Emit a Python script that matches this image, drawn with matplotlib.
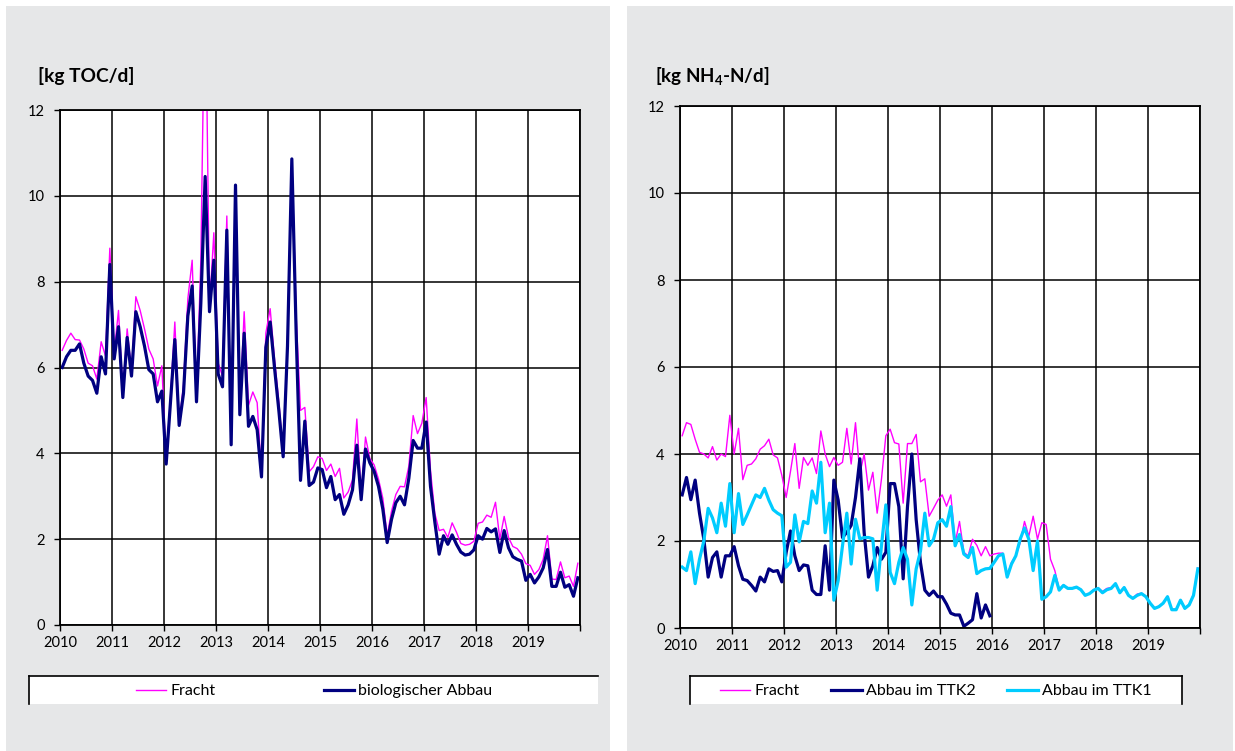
import numpy as np
import matplotlib
matplotlib.use("Agg")
import matplotlib.pyplot as plt
from matplotlib.patches import Rectangle
from matplotlib.lines import Line2D

plt.rcParams['font.family'] = ['Lato', 'DejaVu Sans']
plt.rcParams['mathtext.default'] = 'regular'

# monthly values 2010-01 .. 2019-12
years = list(range(2010, 2020))
year_labels = [str(y) for y in years]

toc_fracht = [6.40, 6.63, 6.80, 6.65, 6.64, 6.43, 6.10, 6.04, 5.73, 6.60, 6.27, 8.78,
              6.35, 7.33, 5.40, 6.90, 5.90, 7.65, 7.33, 6.90, 6.43, 6.20, 5.57, 6.04,
              3.80, 5.30, 7.06, 4.70, 5.60, 7.60, 8.50, 5.30, 8.50, 15.50, 7.40, 9.14,
              6.10, 5.80, 9.53, 4.30, 10.25, 5.00, 7.30, 5.12, 5.43, 5.18, 3.50, 6.80,
              7.37, 6.20, 5.20, 4.00, 6.60, 10.86, 7.20, 5.00, 5.07, 3.57, 3.69, 3.92,
              3.88, 3.60, 3.75, 3.46, 3.65, 2.96, 3.10, 3.38, 4.80, 3.05, 4.38, 3.88,
              3.73, 3.40, 2.95, 2.08, 2.65, 3.04, 3.23, 3.22, 3.70, 4.88, 4.46, 4.70,
              5.30, 3.60, 2.60, 2.20, 2.23, 2.04, 2.38, 2.16, 1.90, 1.86, 1.88, 1.95,
              2.37, 2.40, 2.56, 2.51, 2.86, 2.00, 2.53, 2.04, 1.83, 1.78, 1.65, 1.43,
              1.39, 1.18, 1.29, 1.53, 2.08, 1.07, 1.06, 1.47, 1.10, 1.14, 0.90, 1.44]

toc_abbau = [6.00, 6.25, 6.40, 6.40, 6.55, 6.10, 5.80, 5.70, 5.40, 6.25, 5.85, 8.40,
             6.20, 6.95, 5.30, 6.70, 5.80, 7.30, 6.95, 6.50, 5.95, 5.85, 5.20, 5.45,
             3.75, 5.20, 6.65, 4.65, 5.40, 7.20, 7.90, 5.20, 7.50, 10.45, 7.30, 8.50,
             5.85, 5.55, 9.20, 4.20, 10.25, 4.90, 6.80, 4.63, 4.86, 4.55, 3.45, 6.47,
             7.06, 6.00, 5.00, 3.92, 6.50, 10.86, 6.80, 3.37, 4.75, 3.25, 3.33, 3.66,
             3.62, 3.20, 3.46, 2.92, 3.04, 2.58, 2.80, 3.15, 4.19, 2.92, 4.10, 3.78,
             3.58, 3.23, 2.70, 1.92, 2.46, 2.85, 3.00, 2.80, 3.42, 4.30, 4.12, 4.12,
             4.73, 3.23, 2.40, 1.65, 2.08, 1.88, 2.10, 1.88, 1.70, 1.63, 1.65, 1.75,
             2.08, 2.00, 2.25, 2.17, 2.24, 1.69, 2.20, 1.80, 1.59, 1.53, 1.49, 1.04,
             1.18, 0.98, 1.12, 1.33, 1.76, 0.90, 0.90, 1.23, 0.88, 0.94, 0.67, 1.10]

nh4_fracht = [4.42, 4.72, 4.68, 4.34, 4.04, 4.00, 3.91, 4.17, 3.86, 4.00, 3.94, 4.89,
              4.00, 4.59, 3.41, 3.74, 3.77, 3.89, 4.11, 4.19, 4.34, 3.98, 3.91, 3.51,
              3.00, 3.60, 4.24, 3.21, 3.92, 3.74, 3.91, 3.55, 4.53, 4.00, 3.71, 3.92,
              3.74, 3.81, 4.59, 3.77, 4.72, 3.55, 4.00, 3.17, 3.58, 2.64, 3.43, 4.42,
              4.57, 4.26, 4.23, 2.87, 4.24, 4.24, 4.45, 3.36, 3.43, 2.57, 2.75, 2.94,
              3.06, 2.80, 3.06, 1.96, 2.45, 1.74, 1.66, 2.04, 1.90, 1.66, 1.87, 1.66,
              1.70, 1.72, 1.72, 1.21, 1.51, 1.66, 1.96, 2.45, 2.11, 2.57, 2.04, 2.42,
              2.38, 1.58, 1.32, 0.90, 0.99, 0.92, 0.92, 0.95, 0.89, 0.76, 0.80, 0.88,
              0.92, 0.84, 0.91, 0.93, 1.03, 0.82, 0.94, 0.76, 0.69, 0.78, 0.80, 0.73,
              0.58, 0.46, 0.50, 0.58, 0.73, 0.43, 0.43, 0.65, 0.46, 0.54, 0.78, 1.38]

# TTK2 only runs until end of 2015
nh4_ttk2 = [3.06, 3.46, 2.95, 3.40, 2.64, 2.04, 1.17, 1.62, 1.75, 1.17, 1.66, 1.66,
            1.87, 1.43, 1.12, 1.09, 0.98, 0.85, 1.17, 1.06, 1.36, 1.30, 1.32, 1.06,
            1.74, 2.23, 1.66, 1.32, 1.45, 1.43, 0.87, 0.77, 0.77, 1.89, 0.87, 3.40,
            2.94, 2.08, 2.20, 2.36, 3.00, 3.89, 2.19, 1.17, 1.43, 1.85, 1.58, 1.74,
            3.32, 3.32, 2.79, 1.13, 2.79, 4.00, 2.49, 1.50, 0.87, 0.75, 0.85, 0.72,
            0.72, 0.55, 0.34, 0.30, 0.30, 0.04, 0.11, 0.19, 0.79, 0.23, 0.53, 0.28]

nh4_ttk1 = [1.40, 1.32, 1.75, 1.02, 1.58, 2.00, 2.75, 2.53, 2.19, 2.87, 2.34, 3.32,
            2.19, 3.09, 2.38, 2.60, 2.83, 3.06, 3.00, 3.21, 2.94, 2.72, 2.64, 2.58,
            1.40, 1.51, 2.60, 1.98, 2.45, 2.40, 3.15, 2.87, 3.81, 2.19, 2.87, 0.64,
            1.09, 1.89, 2.64, 1.47, 2.50, 2.05, 2.08, 2.08, 2.05, 0.87, 1.90, 2.83,
            1.28, 1.02, 1.51, 1.85, 1.58, 0.53, 1.36, 1.77, 2.64, 1.89, 2.04, 2.42,
            2.49, 2.34, 2.79, 1.89, 2.15, 1.70, 1.62, 1.85, 1.25, 1.32, 1.36, 1.37,
            1.51, 1.66, 1.70, 1.17, 1.47, 1.66, 2.04, 2.30, 2.04, 1.32, 2.00, 0.66,
            0.72, 0.83, 1.21, 0.87, 0.98, 0.91, 0.91, 0.94, 0.88, 0.75, 0.79, 0.87,
            0.91, 0.81, 0.88, 0.91, 1.02, 0.81, 0.93, 0.75, 0.68, 0.75, 0.79, 0.72,
            0.57, 0.45, 0.49, 0.57, 0.72, 0.42, 0.42, 0.64, 0.45, 0.53, 0.75, 1.36]

t = 2010 + (np.arange(len(toc_fracht)) + 0.5) / 12

MAGENTA = '#ff00ff'
NAVY = '#000080'
CYAN = '#00ccff'
PANEL = '#e6e7e8'

W, H = 1235, 751
fig = plt.figure(figsize=(W / 100, H / 100), dpi=100)


def fx(px):
    return px / W


def fy(py):
    return 1 - py / H


# grey background panels
for x0, x1 in [(6, 610), (627, 1233)]:
    fig.add_artist(Rectangle((fx(x0), 0), fx(x1) - fx(x0), fy(6), transform=fig.transFigure,
                             facecolor=PANEL, edgecolor='none', zorder=0))


def make_ax(left, right, top, bottom):
    ax = fig.add_axes([fx(left), fy(bottom), fx(right) - fx(left), fy(top) - fy(bottom)])
    ax.set_xlim(2010, 2020)
    ax.set_ylim(0, 12)
    ax.set_xticks(range(2010, 2021))
    ax.set_xticklabels(year_labels + [''])
    ax.set_yticks(range(0, 13, 2))
    ax.set_axisbelow(True)
    ax.grid(True, color='black', linewidth=1.1)
    ax.tick_params(direction='out', length=4, width=1.0, labelsize=10.5, colors='black')
    ax.tick_params(axis='y', pad=7)
    ax.tick_params(axis='x', pad=4)
    for s in ax.spines.values():
        s.set_linewidth(1.3)
    return ax


def legend_box(x0, x1, right_border):
    fig.add_artist(Rectangle((fx(x0), fy(704)), fx(x1) - fx(x0), fy(676) - fy(704),
                             transform=fig.transFigure, facecolor='white', edgecolor='none', zorder=1))
    fig.add_artist(Line2D([fx(x0), fx(x1)], [fy(676), fy(676)], transform=fig.transFigure,
                          color='black', lw=1.2, zorder=2))
    fig.add_artist(Line2D([fx(x0), fx(x0)], [fy(676), fy(704)], transform=fig.transFigure,
                          color='black', lw=1.2, zorder=2))
    if right_border:
        fig.add_artist(Line2D([fx(x1), fx(x1)], [fy(676), fy(704)], transform=fig.transFigure,
                              color='black', lw=1.2, zorder=2))


# left: TOC
ax1 = make_ax(60, 580, 110, 625)
l1, = ax1.plot(t, toc_fracht, color=MAGENTA, lw=1.0)
l2, = ax1.plot(t, toc_abbau, color=NAVY, lw=2.3)
fig.text(fx(38), fy(76), '[kg TOC/d]', fontsize=13.8, fontweight='bold', va='center', ha='left')
legend_box(29, 598, False)
leg1 = fig.legend([l1, l2], ['Fracht', 'biologischer Abbau'], loc='center left',
                  bbox_to_anchor=(fx(128), fy(691)), ncol=2, frameon=False, fontsize=11.5,
                  borderpad=0, handlelength=1.9, handletextpad=0.25, columnspacing=6.8)
leg1.set_zorder(3)

# right: NH4-N
ax2 = make_ax(680, 1200, 106, 628)
r1, = ax2.plot(t, nh4_fracht, color=MAGENTA, lw=1.0)
r2, = ax2.plot(t[:len(nh4_ttk2)], nh4_ttk2, color=NAVY, lw=2.3)
r3, = ax2.plot(t, nh4_ttk1, color=CYAN, lw=2.3)
fig.text(fx(655), fy(76), '[kg NH$_4$-N/d]', fontsize=13.5, fontweight='bold', va='center', ha='left')
legend_box(690, 1182, True)
leg2 = fig.legend([r1, r2, r3], ['Fracht', 'Abbau im TTK2', 'Abbau im TTK1'], loc='center left',
                  bbox_to_anchor=(fx(712), fy(691)), ncol=3, frameon=False, fontsize=11.5,
                  borderpad=0, handlelength=1.9, handletextpad=0.25, columnspacing=2.0)
leg2.set_zorder(3)

fig.savefig('out.png', dpi=100)
